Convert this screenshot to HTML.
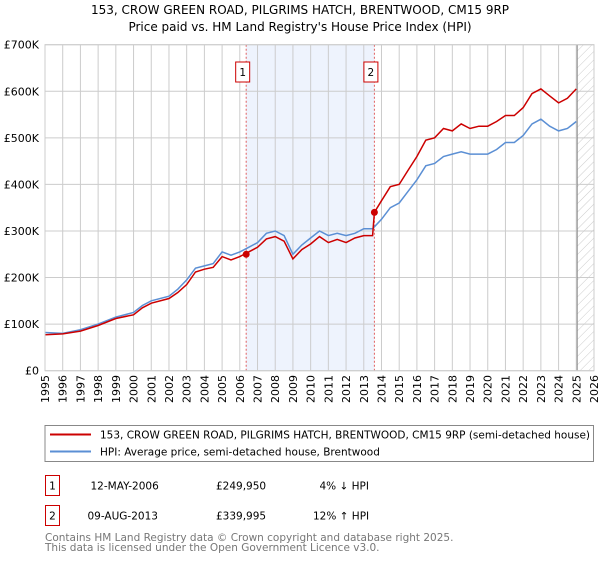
<!DOCTYPE html>
<html><head><meta charset="utf-8"><style>
body{margin:0;background:#fff;font-family:"DejaVu Sans","Liberation Sans",sans-serif;}
svg text{font-family:"DejaVu Sans","Liberation Sans",sans-serif;}
</style></head><body>
<svg width="600" height="560" xmlns="http://www.w3.org/2000/svg">
<defs><pattern id="hatch" width="6" height="6" patternUnits="userSpaceOnUse" patternTransform="rotate(45)"><line x1="0" y1="0" x2="0" y2="6" stroke="#ccc" stroke-width="1"/></pattern></defs>
<text x="300" y="14" text-anchor="middle" font-size="12">153, CROW GREEN ROAD, PILGRIMS HATCH, BRENTWOOD, CM15 9RP</text>
<text x="300" y="31" text-anchor="middle" font-size="12">Price paid vs. HM Land Registry's House Price Index (HPI)</text>
<g id="plot"></g>
<rect x="45" y="425.5" width="548.5" height="36" fill="#fff" stroke="#888"/>
<line x1="50" y1="434.5" x2="91" y2="434.5" stroke="#cc0000" stroke-width="2"/>
<text x="100" y="438.5" font-size="10.5" textLength="490" lengthAdjust="spacingAndGlyphs">153, CROW GREEN ROAD, PILGRIMS HATCH, BRENTWOOD, CM15 9RP (semi-detached house)</text>
<line x1="50" y1="451.5" x2="91" y2="451.5" stroke="#5b8fd4" stroke-width="2"/>
<text x="100" y="455.5" font-size="10.5">HPI: Average price, semi-detached house, Brentwood</text>
<g font-size="10.5">
<rect x="45.5" y="475.5" width="14" height="20" fill="#fff" stroke="#cc0000"/><text x="52.5" y="489.5" text-anchor="middle">1</text>
<text x="90.5" y="489.5">12-MAY-2006</text><text x="216" y="489.5">£249,950</text><text x="319.5" y="489.5">4% ↓ HPI</text></g>
<g font-size="10.5">
<rect x="45.5" y="505.5" width="14" height="20" fill="#fff" stroke="#cc0000"/><text x="52.5" y="519.5" text-anchor="middle">2</text>
<text x="87.5" y="519.5">09-AUG-2013</text><text x="216" y="519.5">£339,995</text><text x="313" y="519.5">12% ↑ HPI</text></g>
<text x="45" y="541" font-size="10.5" fill="#777">Contains HM Land Registry data © Crown copyright and database right 2025.</text>
<text x="45" y="551" font-size="10.5" fill="#777">This data is licensed under the Open Government Licence v3.0.</text>
</svg>
<script>
const years=[1995,1996,1997,1998,1999,2000,2000.5,2001,2002,2002.5,2003,2003.5,2004,2004.5,2005,2005.5,2006,2006.5,2007,2007.5,2008,2008.5,2009,2009.5,2010,2010.5,2011,2011.5,2012,2012.5,2013,2013.5,2014,2014.5,2015,2015.5,2016,2016.5,2017,2017.5,2018,2018.5,2019,2019.5,2020,2020.5,2021,2021.5,2022,2022.5,2023,2023.5,2024,2024.5,2025];
const hpi=[82,80,88,100,115,125,140,150,160,175,195,220,225,230,255,248,255,265,275,295,300,290,250,270,285,300,290,295,290,295,305,305,325,350,360,385,410,440,445,460,465,470,465,465,465,475,490,490,505,530,540,525,515,520,535];
const price=[77,79,85,97,112,120,135,145,155,168,185,212,218,222,245,238,245,255,265,283,288,278,240,260,272,288,275,282,275,285,290,290,365,395,400,430,460,495,500,520,515,530,520,525,525,535,548,548,565,595,605,590,575,585,605];
const sales=[{t:2006.36,v:249.95,l:"1"},{t:2013.6,v:339.995,l:"2"}];
const yTicks=[0,100,200,300,400,500,600,700];
const yLabels=["£0","£100K","£200K","£300K","£400K","£500K","£600K","£700K"];
const X0=45,X1=594,YT=44.7,YB=370.7;
const x=t=>X0+(t-1995)*((X1-X0)/31), y=v=>YB-v*((YB-YT)/700);
const NS="http://www.w3.org/2000/svg", g=document.getElementById('plot');
function mk(tag,a){const e=document.createElementNS(NS,tag);for(const k in a)e.setAttribute(k,a[k]);g.appendChild(e);return e;}
let e=mk('rect',{x:x(2006.36),y:YT,width:x(2013.6)-x(2006.36),height:YB-YT,fill:'#eef3fd'});

e=mk('rect',{x:x(2025.05),y:YT,width:X1-x(2025.05),height:YB-YT,fill:'url(#hatch)'});

for(let yr=1995;yr<=2026;yr++){
 e=mk('line',{x1:x(yr),x2:x(yr),y1:YT,y2:YB,stroke:'#ccc'});
 
 e=mk('text',{x:0,y:0,'text-anchor':'end','font-size':11,transform:'translate('+(x(yr)+4)+',375) rotate(-90)'});e.textContent=yr;
 
}
yTicks.forEach((v,i)=>{
 e=mk('line',{x1:X0,x2:X1,y1:y(v),y2:y(v),stroke:'#ccc'});
 
 e=mk('text',{x:39,y:y(v)+4,'text-anchor':'end','font-size':11});e.textContent=yLabels[i];
 
});
e=mk('line',{x1:x(2025.05),x2:x(2025.05),y1:YT,y2:YB,stroke:'#888'});

sales.forEach(s=>{
 e=mk('line',{x1:x(s.t),x2:x(s.t),y1:YT,y2:YB,stroke:'#e06060','stroke-dasharray':'2,2'});
 
 e=mk('rect',{x:x(s.t)-10.5,y:62,width:14,height:20,fill:'#fff',stroke:'#cc0000'});
 
 e=mk('text',{x:x(s.t)-3.5,y:76,'text-anchor':'middle','font-size':10.5});e.textContent=s.l;
 
});
e=mk('path',{d:years.map((t,i)=>(i?'L':'M')+x(t).toFixed(1)+','+y(hpi[i]).toFixed(1)).join(''),fill:'none',stroke:'#5b8fd4','stroke-width':1.5});

let d='';years.forEach((t,i)=>{d+=(i?'L':'M')+x(t).toFixed(1)+','+y(price[i]).toFixed(1);if(t===2013.5)d+='L'+x(2013.6).toFixed(1)+','+y(sales[1].v).toFixed(1);});
e=mk('path',{d:d,fill:'none',stroke:'#cc0000','stroke-width':1.5});

sales.forEach(s=>{e=mk('circle',{cx:x(s.t),cy:y(s.v),r:3.5,fill:'#cc0000'});
 });
e=mk('rect',{x:X0,y:YT,width:X1-X0,height:YB-YT,fill:'none',stroke:'#ccc'});

</script>
</body></html>
